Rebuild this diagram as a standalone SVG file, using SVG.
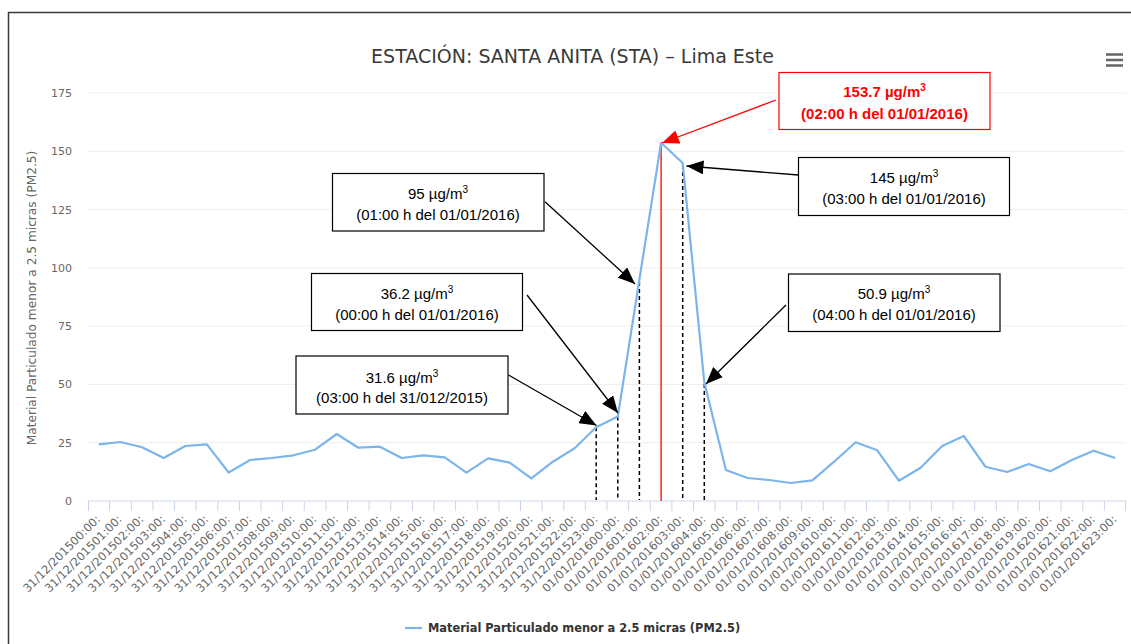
<svg xmlns="http://www.w3.org/2000/svg" width="1131" height="644" viewBox="0 0 1131 644">
<style>
.grid{stroke:#eeeeee;stroke-width:1}
.ylab{font-family:"DejaVu Sans",sans-serif;font-size:11px;fill:#666;text-anchor:end}
.xlab{font-family:"DejaVu Sans",sans-serif;font-size:11.5px;fill:#666;text-anchor:end}
.box{fill:#fff;stroke:#000;stroke-width:1.2}
.boxr{fill:#fff;stroke:#ff0000;stroke-width:1.2}
.bt{font-family:"Liberation Sans",Arial,sans-serif;font-size:15px;fill:#000;text-anchor:middle}
.btr{font-family:"Liberation Sans",Arial,sans-serif;font-size:15px;font-weight:bold;fill:#ff0000;text-anchor:middle}
.arr{stroke:#000;stroke-width:1.3;fill:none;marker-end:url(#ah)}
.arrr{stroke:#ff0000;stroke-width:1.3;fill:none;marker-end:url(#ahr)}
.dash{stroke:#000;stroke-width:1.5;stroke-dasharray:4 3}
</style>
<defs>
<marker id="ah" markerUnits="userSpaceOnUse" markerWidth="17" markerHeight="14" refX="17" refY="7" orient="auto"><path d="M0,0 L17,7 L0,14 z" fill="#000"/></marker>
<marker id="ahr" markerUnits="userSpaceOnUse" markerWidth="17" markerHeight="14" refX="17" refY="7" orient="auto"><path d="M0,0 L17,7 L0,14 z" fill="#ff0000"/></marker>
</defs>
<rect width="1131" height="644" fill="#fff"/>
<path d="M8.5,644 V12.5 H1131" fill="none" stroke="#3a3a3a" stroke-width="1.5"/>
<text x="572.5" y="63" font-family="'DejaVu Sans',sans-serif" font-size="19px" fill="#3a3a3a" text-anchor="middle">ESTACIÓN: SANTA ANITA (STA) – Lima Este</text>
<g id="menu" stroke="#666" stroke-width="2.6"><path d="M1106,54.5 H1123 M1106,60 H1123 M1106,65.5 H1123"/></g>
<g id="grid">
<path class="grid" d="M88,93 H1126 M88,151.3 H1126 M88,209.6 H1126 M88,267.9 H1126 M88,326.1 H1126 M88,384.4 H1126 M88,442.7 H1126"/>
<path d="M88,501 H1126" stroke="#ccd6eb" stroke-width="1"/>
<path stroke="#ccd6eb" stroke-width="1" d="M88.5,501V511M109.6,501V511M131.3,501V511M152.9,501V511M174.5,501V511M196.1,501V511M217.8,501V511M239.4,501V511M261,501V511M282.6,501V511M304.3,501V511M325.9,501V511M347.5,501V511M369.1,501V511M390.8,501V511M412.4,501V511M434,501V511M455.6,501V511M477.3,501V511M498.9,501V511M520.5,501V511M542.1,501V511M563.8,501V511M585.4,501V511M607,501V511M628.6,501V511M650.3,501V511M671.9,501V511M693.5,501V511M715.1,501V511M736.8,501V511M758.4,501V511M780,501V511M801.6,501V511M823.3,501V511M844.9,501V511M866.5,501V511M888.1,501V511M909.8,501V511M931.4,501V511M953,501V511M974.6,501V511M996.3,501V511M1017.9,501V511M1039.5,501V511M1061.1,501V511M1082.8,501V511M1104.4,501V511M1125.5,501V511"/>
</g>
<g id="yaxis">
<text class="ylab" x="72" y="97">175</text>
<text class="ylab" x="72" y="155.3">150</text>
<text class="ylab" x="72" y="213.6">125</text>
<text class="ylab" x="72" y="271.9">100</text>
<text class="ylab" x="72" y="330.1">75</text>
<text class="ylab" x="72" y="388.4">50</text>
<text class="ylab" x="72" y="446.7">25</text>
<text class="ylab" x="72" y="505">0</text>
<text transform="translate(36,298) rotate(-90)" font-family="'DejaVu Sans',sans-serif" font-size="12.2px" fill="#666" text-anchor="middle">Material Particulado menor a 2.5 micras (PM2.5)</text>
</g>
<g id="xaxis">
<text class="xlab" transform="translate(101,520) rotate(-45)">31/12/201500:00:</text>
<text class="xlab" transform="translate(122.6,520) rotate(-45)">31/12/201501:00:</text>
<text class="xlab" transform="translate(144.3,520) rotate(-45)">31/12/201502:00:</text>
<text class="xlab" transform="translate(165.9,520) rotate(-45)">31/12/201503:00:</text>
<text class="xlab" transform="translate(187.5,520) rotate(-45)">31/12/201504:00:</text>
<text class="xlab" transform="translate(209.1,520) rotate(-45)">31/12/201505:00:</text>
<text class="xlab" transform="translate(230.8,520) rotate(-45)">31/12/201506:00:</text>
<text class="xlab" transform="translate(252.4,520) rotate(-45)">31/12/201507:00:</text>
<text class="xlab" transform="translate(274,520) rotate(-45)">31/12/201508:00:</text>
<text class="xlab" transform="translate(295.6,520) rotate(-45)">31/12/201509:00:</text>
<text class="xlab" transform="translate(317.3,520) rotate(-45)">31/12/201510:00:</text>
<text class="xlab" transform="translate(338.9,520) rotate(-45)">31/12/201511:00:</text>
<text class="xlab" transform="translate(360.5,520) rotate(-45)">31/12/201512:00:</text>
<text class="xlab" transform="translate(382.1,520) rotate(-45)">31/12/201513:00:</text>
<text class="xlab" transform="translate(403.8,520) rotate(-45)">31/12/201514:00:</text>
<text class="xlab" transform="translate(425.4,520) rotate(-45)">31/12/201515:00:</text>
<text class="xlab" transform="translate(447,520) rotate(-45)">31/12/201516:00:</text>
<text class="xlab" transform="translate(468.6,520) rotate(-45)">31/12/201517:00:</text>
<text class="xlab" transform="translate(490.3,520) rotate(-45)">31/12/201518:00:</text>
<text class="xlab" transform="translate(511.9,520) rotate(-45)">31/12/201519:00:</text>
<text class="xlab" transform="translate(533.5,520) rotate(-45)">31/12/201520:00:</text>
<text class="xlab" transform="translate(555.1,520) rotate(-45)">31/12/201521:00:</text>
<text class="xlab" transform="translate(576.8,520) rotate(-45)">31/12/201522:00:</text>
<text class="xlab" transform="translate(598.4,520) rotate(-45)">31/12/201523:00:</text>
<text class="xlab" transform="translate(620,520) rotate(-45)">01/01/201600:00:</text>
<text class="xlab" transform="translate(641.6,520) rotate(-45)">01/01/201601:00:</text>
<text class="xlab" transform="translate(663.3,520) rotate(-45)">01/01/201602:00:</text>
<text class="xlab" transform="translate(684.9,520) rotate(-45)">01/01/201603:00:</text>
<text class="xlab" transform="translate(706.5,520) rotate(-45)">01/01/201604:00:</text>
<text class="xlab" transform="translate(728.1,520) rotate(-45)">01/01/201605:00:</text>
<text class="xlab" transform="translate(749.8,520) rotate(-45)">01/01/201606:00:</text>
<text class="xlab" transform="translate(771.4,520) rotate(-45)">01/01/201607:00:</text>
<text class="xlab" transform="translate(793,520) rotate(-45)">01/01/201608:00:</text>
<text class="xlab" transform="translate(814.6,520) rotate(-45)">01/01/201609:00:</text>
<text class="xlab" transform="translate(836.3,520) rotate(-45)">01/01/201610:00:</text>
<text class="xlab" transform="translate(857.9,520) rotate(-45)">01/01/201611:00:</text>
<text class="xlab" transform="translate(879.5,520) rotate(-45)">01/01/201612:00:</text>
<text class="xlab" transform="translate(901.1,520) rotate(-45)">01/01/201613:00:</text>
<text class="xlab" transform="translate(922.8,520) rotate(-45)">01/01/201614:00:</text>
<text class="xlab" transform="translate(944.4,520) rotate(-45)">01/01/201615:00:</text>
<text class="xlab" transform="translate(966,520) rotate(-45)">01/01/201616:00:</text>
<text class="xlab" transform="translate(987.6,520) rotate(-45)">01/01/201617:00:</text>
<text class="xlab" transform="translate(1009.3,520) rotate(-45)">01/01/201618:00:</text>
<text class="xlab" transform="translate(1030.9,520) rotate(-45)">01/01/201619:00:</text>
<text class="xlab" transform="translate(1052.5,520) rotate(-45)">01/01/201620:00:</text>
<text class="xlab" transform="translate(1074.1,520) rotate(-45)">01/01/201621:00:</text>
<text class="xlab" transform="translate(1095.8,520) rotate(-45)">01/01/201622:00:</text>
<text class="xlab" transform="translate(1117.4,520) rotate(-45)">01/01/201623:00:</text>
</g>
<g id="guides">
<path class="dash" d="M596.2,427.3 V500 M617.8,416.6 V500 M639.4,282 V500 M682.7,165 V500 M704.3,384 V500"/>
<path d="M661.1,143 V501" stroke="#ff0000" stroke-width="1.3"/>
</g>
<g id="series">
<polyline fill="none" stroke="#7cb5ec" stroke-width="2.2" stroke-linejoin="round" points="98.8,444.3 120.4,442 142.1,447.3 163.7,458 185.3,446 206.9,444.3 228.6,472.5 250.2,460 271.8,458 293.4,455.3 315.1,449.7 336.7,434 358.3,447.7 379.9,446.7 401.6,458 423.2,455.3 444.8,457.3 466.4,472.7 488.1,458.3 509.7,462.7 531.3,478.3 552.9,461.7 574.6,448.3 596.2,427.3 617.8,416.6 639.4,279.5 661.1,142.7 682.7,163 704.3,382.3 725.9,470 747.6,478 769.2,480 790.8,483 812.4,480.3 834.1,461.7 855.7,442.3 877.3,450.3 898.9,480.7 920.6,467.7 942.2,446 963.8,436 985.4,466.7 1007.1,472 1028.7,464 1050.3,471.3 1071.9,460 1093.6,450.7 1115.2,458"/>
</g>
<g id="connectors">
<line class="arrr" x1="776" y1="100" x2="662" y2="143"/>
<line class="arr" x1="545" y1="201.7" x2="635" y2="284"/>
<line class="arr" x1="527" y1="295" x2="618" y2="413"/>
<line class="arr" x1="508.5" y1="375" x2="596.5" y2="425.5"/>
<line class="arr" x1="798.5" y1="175" x2="686.5" y2="166"/>
<line class="arr" x1="786" y1="305" x2="706" y2="384"/>
</g>
<g id="box-peak">
<rect class="boxr" x="779" y="72.5" width="211" height="57"/>
<text class="btr" x="884.5" y="97.3">153.7 µg/m<tspan dy="-6" font-size="10px">3</tspan></text>
<text class="btr" x="884.5" y="118.5">(02:00 h del 01/01/2016)</text>
</g>
<g id="box-95">
<rect class="box" x="332.5" y="173.5" width="211.5" height="57.5"/>
<text class="bt" x="438" y="199.3">95 µg/m<tspan dy="-6" font-size="10px">3</tspan></text>
<text class="bt" x="438" y="219.5">(01:00 h del 01/01/2016)</text>
</g>
<g id="box-36">
<rect class="box" x="311.5" y="273.5" width="211" height="57"/>
<text class="bt" x="417" y="299.3">36.2 µg/m<tspan dy="-6" font-size="10px">3</tspan></text>
<text class="bt" x="417" y="320">(00:00 h del 01/01/2016)</text>
</g>
<g id="box-31">
<rect class="box" x="296" y="356" width="212" height="58"/>
<text class="bt" x="402" y="382.7">31.6 µg/m<tspan dy="-6" font-size="10px">3</tspan></text>
<text class="bt" x="402" y="403">(03:00 h del 31/012/2015)</text>
</g>
<g id="box-145">
<rect class="box" x="798.5" y="157.5" width="211" height="58"/>
<text class="bt" x="904" y="182.7">145 µg/m<tspan dy="-6" font-size="10px">3</tspan></text>
<text class="bt" x="904" y="203.5">(03:00 h del 01/01/2016)</text>
</g>
<g id="box-50">
<rect class="box" x="788.5" y="274" width="211.5" height="57.5"/>
<text class="bt" x="894" y="299.3">50.9 µg/m<tspan dy="-6" font-size="10px">3</tspan></text>
<text class="bt" x="894" y="320">(04:00 h del 01/01/2016)</text>
</g>
<g id="legend">
<path d="M405,628 H422" stroke="#7cb5ec" stroke-width="2.2"/>
<text x="428" y="632" font-family="'DejaVu Sans',sans-serif" font-size="11.4px" font-weight="bold" fill="#333">Material Particulado menor a 2.5 micras (PM2.5)</text>
</g>
</svg>
